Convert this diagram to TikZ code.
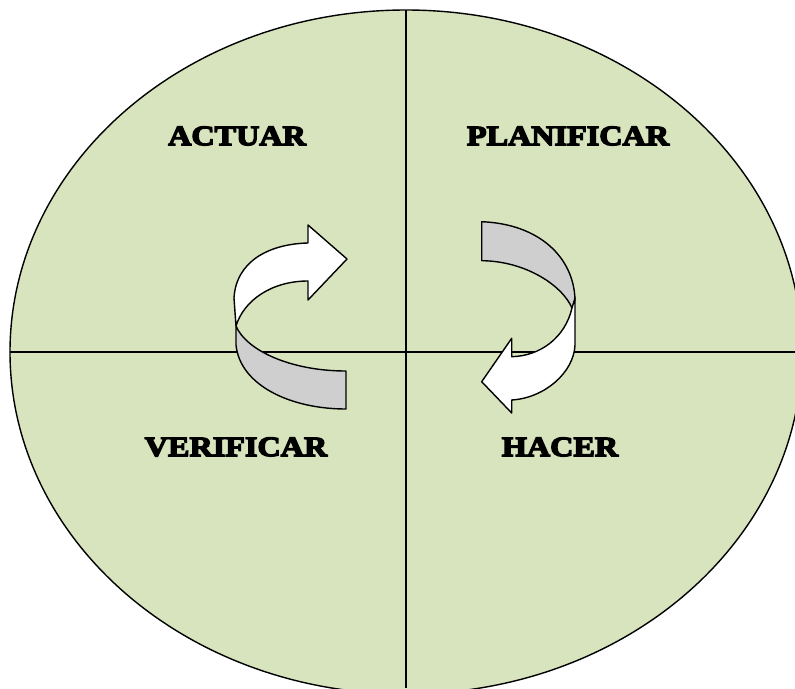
\documentclass[tikz,border=0pt]{standalone}
\usepackage{fontspec}
\setmainfont{Liberation Serif}
\newfontfamily\heavyfont{Liberation Serif Bold}[FakeBold=5,FakeStretch=1.15]
\begin{document}
\begin{tikzpicture}[x=1pt,y=-1pt,
  outline/.style={draw=black,line width=1.4pt,line join=round},
  label/.style={font=\heavyfont\fontsize{28}{30}\selectfont,inner sep=0pt},
  backside/.style={outline,fill=gray!38},
  frontside/.style={outline,fill=white}]
\useasboundingbox (0,0) rectangle (795,688);
\clip (0,0) rectangle (795,688);
\definecolor{pale}{HTML}{D7E4BD}
\draw[outline,fill=pale] (406,352) ellipse [x radius=396, y radius=342];
\coordinate (hl) at (10,352);
\coordinate (hr) at (795,352);
\coordinate (vt) at (406,10);
\coordinate (vb) at (406,688);
\draw[line width=1.4pt] (hl) -- (hr);
\draw[line width=1.4pt] (vt) -- (vb);
\node[label] (actuar) at (237,136) {ACTUAR};
\node[label] (planificar) at (568,136) {PLANIFICAR};
\node[label] (verificar) at (236,447) {VERIFICAR};
\node[label] (hacer) at (560,447) {HACER};
% left arrow
\coordinate (J) at (236,326);
\draw[backside] (J) .. controls (246,350) and (290,371) .. (346,371) -- (346,409)
  .. controls (290,409) and (240,385) .. (236,345) -- cycle;
\draw[frontside] (J) -- (234,298) .. controls (236,262) and (268,244) .. (308,243)
  -- (308,225) -- (347,259) -- (308,300) -- (308,281)
  .. controls (272,281) and (244,300) .. (J) -- cycle;
% right arrow
\coordinate (K) at (572,308);
\draw[backside] (481.7,221.7) .. controls (540,224) and (574,258) .. (575,300) -- (K)
  .. controls (562,285) and (525,261) .. (481.7,260.7) -- cycle;
\draw[frontside] (575,298) -- (575,345) .. controls (574,372) and (545,398) .. (511.7,400)
  -- (511.7,413) -- (481.7,381.7) -- (511.7,338.3) -- (511.7,356.7)
  .. controls (540,356) and (565,338) .. (K) -- cycle;
\end{tikzpicture}
\end{document}
